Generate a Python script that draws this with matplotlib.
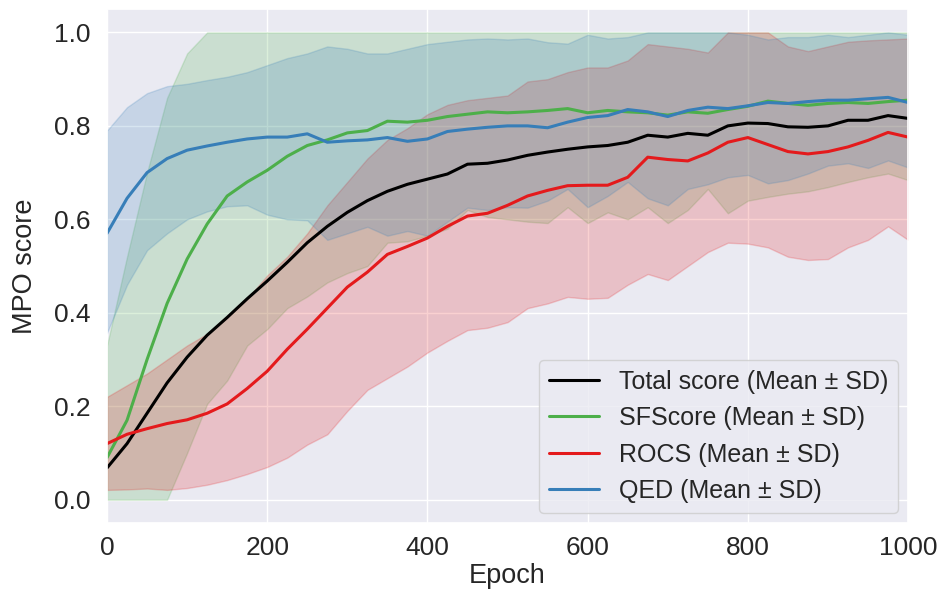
'''
MPO score per epoch - mean lines with +/- SD bands
'''
import matplotlib
matplotlib.use('Agg')
import matplotlib.pyplot as plt
import seaborn as sns

epochs = [0, 25, 50, 75, 100, 125, 150, 175, 200, 225, 250, 275, 300, 325, 350,
          375, 400, 425, 450, 475, 500, 525, 550, 575, 600, 625, 650, 675, 700,
          725, 750, 775, 800, 825, 850, 875, 900, 925, 950, 975, 1000]

# Total score (no band visible)
total_mean = [0.068, 0.12, 0.185, 0.25, 0.305, 0.352, 0.39, 0.43, 0.468, 0.508, 0.55,
              0.585, 0.615, 0.64, 0.66, 0.675, 0.686, 0.697, 0.718, 0.72, 0.727,
              0.737, 0.744, 0.75, 0.755, 0.758, 0.765, 0.78, 0.776, 0.784, 0.78,
              0.8, 0.806, 0.805, 0.798, 0.797, 0.8, 0.812, 0.812, 0.822, 0.816]

# SFScore
sf_mean = [0.09, 0.17, 0.30, 0.42, 0.515, 0.59, 0.65, 0.68, 0.705, 0.735, 0.758,
           0.77, 0.785, 0.79, 0.81, 0.808, 0.812, 0.82, 0.825, 0.83, 0.828, 0.83,
           0.833, 0.837, 0.828, 0.833, 0.83, 0.828, 0.823, 0.83, 0.827, 0.835,
           0.842, 0.853, 0.848, 0.844, 0.848, 0.85, 0.848, 0.852, 0.855]
sf_upper = [0.33, 0.52, 0.70, 0.86, 0.955] + [1.0] * 36
sf_lower = [0.0, 0.0, 0.0, 0.0, 0.10, 0.205, 0.255, 0.33, 0.365, 0.41, 0.435,
            0.465, 0.485, 0.50, 0.55, 0.553, 0.565, 0.58, 0.62, 0.605, 0.60, 0.595,
            0.592, 0.626, 0.592, 0.615, 0.60, 0.626, 0.592, 0.62, 0.665, 0.613,
            0.64, 0.648, 0.655, 0.66, 0.669, 0.68, 0.69, 0.698, 0.684]

# ROCS
rocs_mean = [0.12, 0.14, 0.152, 0.163, 0.171, 0.185, 0.205, 0.238, 0.275, 0.322,
             0.365, 0.41, 0.455, 0.487, 0.525, 0.542, 0.56, 0.585, 0.607, 0.613,
             0.63, 0.65, 0.662, 0.672, 0.673, 0.673, 0.69, 0.733, 0.728, 0.725,
             0.742, 0.765, 0.775, 0.76, 0.745, 0.74, 0.745, 0.755, 0.769, 0.786, 0.776]
rocs_upper = [0.22, 0.245, 0.27, 0.30, 0.33, 0.355, 0.39, 0.43, 0.48, 0.52, 0.57,
              0.63, 0.68, 0.73, 0.77, 0.795, 0.825, 0.845, 0.855, 0.86, 0.865,
              0.895, 0.90, 0.915, 0.925, 0.925, 0.94, 0.975, 0.97, 0.965, 0.957,
              1.0, 1.0, 1.0, 0.97, 0.96, 0.97, 0.98, 0.983, 0.985, 0.987]
rocs_lower = [0.021, 0.022, 0.024, 0.021, 0.025, 0.032, 0.042, 0.055, 0.07, 0.09,
              0.118, 0.14, 0.19, 0.235, 0.26, 0.285, 0.315, 0.34, 0.363, 0.368,
              0.38, 0.41, 0.42, 0.434, 0.43, 0.432, 0.46, 0.483, 0.47, 0.50, 0.53,
              0.55, 0.548, 0.54, 0.52, 0.513, 0.515, 0.54, 0.556, 0.585, 0.556]

# QED
qed_mean = [0.57, 0.645, 0.70, 0.73, 0.748, 0.757, 0.765, 0.772, 0.776, 0.776,
            0.783, 0.765, 0.768, 0.77, 0.775, 0.767, 0.772, 0.788, 0.793, 0.797,
            0.80, 0.80, 0.796, 0.808, 0.818, 0.822, 0.835, 0.83, 0.82, 0.833, 0.84,
            0.837, 0.843, 0.85, 0.848, 0.852, 0.855, 0.855, 0.858, 0.861, 0.85]
qed_upper = [0.79, 0.84, 0.87, 0.885, 0.89, 0.898, 0.905, 0.915, 0.93, 0.945, 0.955,
             0.97, 0.965, 0.955, 0.955, 0.965, 0.975, 0.98, 0.985, 0.987, 0.985,
             0.987, 0.979, 0.976, 0.995, 0.987, 0.99, 1.0, 1.0, 1.0, 1.0, 1.0,
             0.995, 0.985, 0.99, 0.99, 0.995, 0.99, 0.995, 1.0, 0.995]
qed_lower = [0.357, 0.46, 0.534, 0.57, 0.60, 0.617, 0.628, 0.63, 0.61, 0.60, 0.598,
             0.556, 0.57, 0.584, 0.565, 0.575, 0.565, 0.595, 0.625, 0.62, 0.626,
             0.625, 0.64, 0.665, 0.626, 0.65, 0.68, 0.645, 0.63, 0.665, 0.675,
             0.69, 0.695, 0.677, 0.684, 0.698, 0.715, 0.72, 0.71, 0.726, 0.711]

labels = ['Total score (Mean ± SD)', 'SFScore (Mean ± SD)',
          'ROCS (Mean ± SD)', 'QED (Mean ± SD)']

sns.set_theme(style='darkgrid')
plt.rcParams['font.family'] = ['Liberation Sans', 'DejaVu Sans']

fig = plt.figure(figsize=(9.42, 6.04), dpi=100)
ax = fig.add_axes([0.1136, 0.134, 0.8504, 0.851])

ax.plot(epochs, total_mean, color='black', lw=2.2, label=labels[0])

ax.fill_between(epochs, sf_lower, sf_upper, color='#4daf4a', alpha=0.2)
ax.plot(epochs, sf_mean, color='#4daf4a', lw=2.2, label=labels[1])

ax.fill_between(epochs, rocs_lower, rocs_upper, color='#e41a1c', alpha=0.2)
ax.plot(epochs, rocs_mean, color='#e41a1c', lw=2.2, label=labels[2])

ax.fill_between(epochs, qed_lower, qed_upper, color='#377eb8', alpha=0.2)
ax.plot(epochs, qed_mean, color='#377eb8', lw=2.2, label=labels[3])

ax.set_xlim(0, 1000)
ax.set_ylim(-0.05, 1.05)
ax.set_xticks([0, 200, 400, 600, 800, 1000])
ax.set_yticks([0.0, 0.2, 0.4, 0.6, 0.8, 1.0])
ax.tick_params(labelsize=19)
ax.tick_params(axis='y', pad=6)
ax.set_xlabel('Epoch', fontsize=19.5, labelpad=2)
ax.set_ylabel('MPO score', fontsize=19.5, labelpad=11)

ax.legend(loc='lower right', fontsize=18, borderaxespad=0.4)

plt.savefig('out.png')
